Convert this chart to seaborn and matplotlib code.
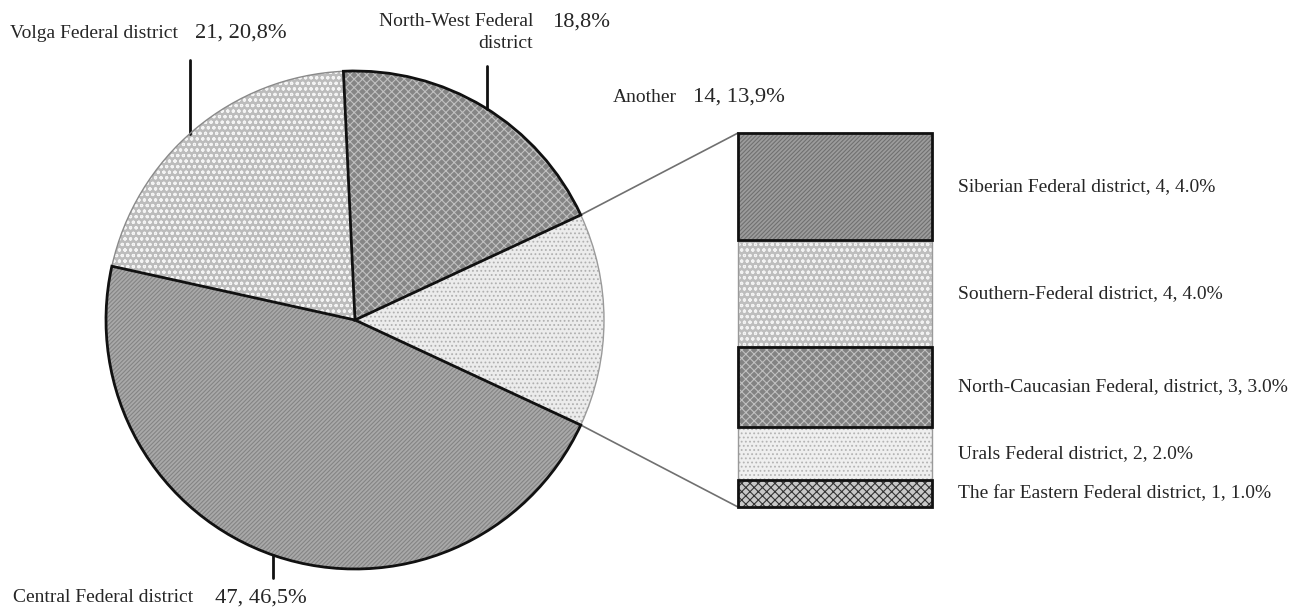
import matplotlib
matplotlib.use("Agg")
import matplotlib.pyplot as plt
import seaborn as sns
import numpy as np

# Federal districts shown in the pie; "Another" is broken down in the bar
main_names = ["Another", "North-West Federal\ndistrict", "Volga Federal district", "Central Federal district"]
main_counts = [14, 19, 21, 47]
detail_names = ["Siberian Federal district", "Southern-Federal district",
                "North-Caucasian Federal, district", "Urals Federal district",
                "The far Eastern Federal district"]
detail_counts = [4, 4, 3, 2, 1]

sns.set_style("white")
plt.rcParams["font.family"] = ["Liberation Serif", "DejaVu Serif"]
plt.rcParams["hatch.linewidth"] = 0.8

W, H = 1300, 608
fig = plt.figure(figsize=(W / 100, H / 100), dpi=100)
ax = fig.add_axes([0, 0, 1, 1])

total = sum(main_counts)
cx, cy, r = 355, 288, 249
start = -main_counts[0] / total * 360 / 2

pie_face = ["#ececec", "#858585", "#bcbcbc", "#a9a9a9"]
pie_hatch = ["....", "xxxx", "ooo", "////////"]
pie_hcol = ["#b0b0b0", "#c0c0c0", "#f4f4f4", "#848484"]
pie_edge = ["#9a9a9a", "#111111", "#8a8a8a", "#111111"]
pie_lw = [1.0, 2.0, 1.0, 2.0]

# textured fill layer
wedges, _ = ax.pie(main_counts, startangle=start, counterclock=True,
                   center=(cx, cy), radius=r, colors=pie_face,
                   wedgeprops=dict(linewidth=0), frame=True)
for w, hc, ht in zip(wedges, pie_hcol, pie_hatch):
    w.set_edgecolor(hc)
    w.set_hatch(ht)
    w.set_linewidth(0)
# outline layer
outl, _ = ax.pie(main_counts, startangle=start, counterclock=True,
                 center=(cx, cy), radius=r, colors=["none"] * 4, frame=True)
for i in range(len(outl)):
    outl[i].set_edgecolor(pie_edge[i])
    outl[i].set_linewidth(pie_lw[i])
    outl[i].set_facecolor("none")
    outl[i].set_zorder(3 + (1 if pie_lw[i] > 1.5 else 0))
ax.set_xlim(0, W)
ax.set_ylim(0, H)
ax.set_aspect("equal")
ax.axis("off")

# stacked bar for the "Another" group
bx0, bx1 = 738, 932
btop, bbot = H - 133, H - 507
scale = (btop - bbot) / sum(detail_counts)
bar_face = ["#9c9c9c", "#bebebe", "#838383", "#efefef", "#c8c8c8"]
bar_hatch = ["////////", "ooo", "xxxx", "....", "xxxx"]
bar_hcol = ["#707070", "#f2f2f2", "#c0c0c0", "#b4b4b4", "#333333"]
bar_edge = ["#111111", "#9a9a9a", "#111111", "#9a9a9a", "#111111"]
bar_lw = [2.0, 1.0, 2.0, 1.0, 2.0]

bottoms = btop - np.cumsum(detail_counts) * scale
heights = np.array(detail_counts) * scale
ax.bar([(bx0 + bx1) / 2] * len(detail_counts), heights, bottom=bottoms,
       width=bx1 - bx0, color=bar_face, hatch=bar_hatch, edgecolor=bar_hcol,
       linewidth=0, zorder=2)
for i in [1, 3, 0, 2, 4]:
    ax.bar((bx0 + bx1) / 2, heights[i], bottom=bottoms[i], width=bx1 - bx0,
           color="none", edgecolor=bar_edge[i], linewidth=bar_lw[i],
           zorder=3 + (1 if bar_lw[i] > 1.5 else 0))

# connector lines from the "Another" wedge to the bar
t1, t2 = np.deg2rad(wedges[0].theta1), np.deg2rad(wedges[0].theta2)
ax.plot([cx + r * np.cos(t2), bx0], [cy + r * np.sin(t2), btop], color="#707070", lw=1.2, zorder=1)
ax.plot([cx + r * np.cos(t1), bx0], [cy + r * np.sin(t1), bbot], color="#707070", lw=1.2, zorder=1)


def pct(v, sep):
    return f"{v / total * 100:.1f}%".replace(".", sep)


def edge_y(x, upper=True):
    d = np.sqrt(r ** 2 - (x - cx) ** 2)
    return cy + d if upper else cy - d


name_fs, val_fs = 14, 16.2

# Volga
ax.plot([190, 190], [edge_y(190), H - 60], color="#111111", lw=2)
ax.text(10, H - 33, main_names[2], fontsize=name_fs, ha="left", va="center")
ax.text(195, H - 33, f"{main_counts[2]}, {pct(main_counts[2], ',')}", fontsize=val_fs, ha="left", va="center")
# North-West
ax.plot([487, 487], [edge_y(487), H - 66], color="#111111", lw=2)
ax.text(533, H - 22, main_names[1].split("\n")[0], fontsize=name_fs, ha="right", va="center")
ax.text(533, H - 43, main_names[1].split("\n")[1], fontsize=name_fs, ha="right", va="center")
ax.text(552, H - 22, pct(main_counts[1], ","), fontsize=val_fs, ha="left", va="center")
# Another
ax.text(613, H - 97, main_names[0], fontsize=name_fs, ha="left", va="center")
ax.text(693, H - 97, f"{main_counts[0]}, {pct(main_counts[0], ',')}", fontsize=val_fs, ha="left", va="center")
# Central
ax.plot([273, 273], [edge_y(273, upper=False), H - 578], color="#111111", lw=2)
ax.text(13, H - 598, main_names[3], fontsize=name_fs, ha="left", va="center")
ax.text(215, H - 598, f"{main_counts[3]}, {pct(main_counts[3], ',')}", fontsize=val_fs, ha="left", va="center")

# bar labels
for name, v, b, h in zip(detail_names, detail_counts, bottoms, heights):
    ax.text(958, b + h / 2, f"{name}, {v}, {pct(v, '.')}", fontsize=name_fs, ha="left", va="center")

fig.savefig("out.png", dpi=100)
